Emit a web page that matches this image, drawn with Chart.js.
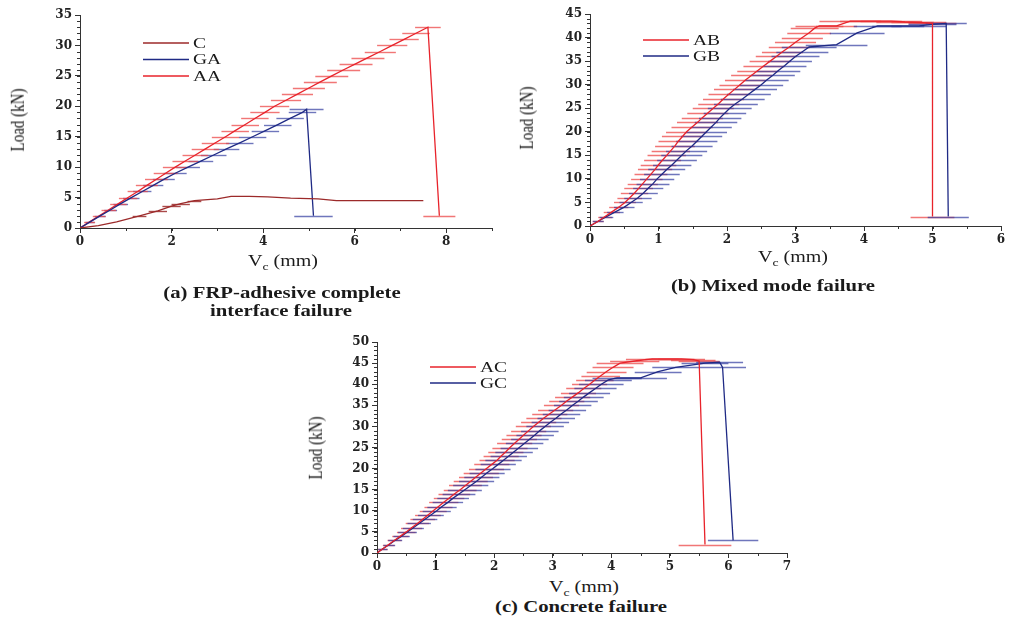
<!DOCTYPE html>
<html>
<head>
<meta charset="utf-8">
<script src="https://cdn.jsdelivr.net/npm/chart.js@4.4.1/dist/chart.umd.min.js"></script>
<style>
  body { margin: 0; background: #fff; }
  #wrap { position: relative; width: 1009px; height: 621px; overflow: hidden; }
  canvas { position: absolute; }
  .txt { position: absolute; white-space: nowrap; color: #1a1a1a; font-family: 'Liberation Serif', serif; }
  .ytitle { font-size: 15px; color: #111; transform: translate(-50%, -50%) rotate(-90deg) scaleY(1.2); }
  .xtitle { font-size: 16px; transform: translate(-50%, -50%) scaleX(1.25); }
  .cap { font-size: 17px; font-weight: bold; transform: translate(-50%, -50%) scaleX(1.22); }
</style>
</head>
<body>
<div id="wrap">
  <canvas id="chartA" width="500" height="252" style="left:0px;top:0px"></canvas>
  <canvas id="chartB" width="509" height="250" style="left:500px;top:0px"></canvas>
  <canvas id="chartC" width="510" height="257" style="left:290px;top:320px"></canvas>

  <div class="txt ytitle" style="left:18px;top:120px">Load (kN)</div>
  <div class="txt ytitle" style="left:527px;top:118px">Load (kN)</div>
  <div class="txt ytitle" style="left:316px;top:448px">Load (kN)</div>

  <div class="txt xtitle" style="left:283px;top:262px">V<sub style="font-size:11px">c</sub> (mm)</div>
  <div class="txt xtitle" style="left:793px;top:258px">V<sub style="font-size:11px">c</sub> (mm)</div>
  <div class="txt xtitle" style="left:584px;top:588px">V<sub style="font-size:11px">c</sub> (mm)</div>

  <div class="txt cap" style="left:282px;top:293px">(a) FRP-adhesive complete</div>
  <div class="txt cap" style="left:281px;top:311px">interface failure</div>
  <div class="txt cap" style="left:773px;top:286px">(b) Mixed mode failure</div>
  <div class="txt cap" style="left:581px;top:607px">(c) Concrete failure</div>
</div>
<script>
// ---- tick labels ----
const xTicksA = [0, 2, 4, 6, 8];
const yTicksA = [0, 5, 10, 15, 20, 25, 30, 35];
const xTicksB = [0, 1, 2, 3, 4, 5, 6];
const yTicksB = [0, 5, 10, 15, 20, 25, 30, 35, 40, 45];
const xTicksC = [0, 1, 2, 3, 4, 5, 6, 7];
const yTicksC = [0, 5, 10, 15, 20, 25, 30, 35, 40, 45, 50];

// ---- (a) FRP-adhesive complete interface failure ----
const cX   = [0, 0.4, 0.8, 1.3, 1.7, 2.0, 2.2, 2.5, 3.0, 3.3, 3.7, 4.1, 4.6, 5.2, 5.6, 6.5, 7.5];
const cY   = [0, 0.4, 1.0, 2.0, 2.8, 3.6, 4.0, 4.5, 4.8, 5.2, 5.2, 5.1, 4.9, 4.8, 4.5, 4.5, 4.5];
const cErr = [0, 0, 0, 0.15, 0.2, 0.2, 0.2, 0.15, 0, 0, 0, 0, 0, 0, 0, 0, 0];

const gaX   = [0, 0.22, 0.44, 0.67, 0.89, 1.12, 1.36, 1.6, 1.83, 2.08, 2.36, 2.64, 2.92, 3.2, 3.49, 3.77, 4.05, 4.32, 4.59, 4.86, 4.95, 5.1];
const gaY   = [0, 1, 2, 3, 4, 5, 6, 7, 8, 9, 10, 11, 12, 13, 14, 15, 16, 17, 18, 19, 19.5, 2];
const gaErr = [0, 0.1, 0.12, 0.14, 0.16, 0.18, 0.2, 0.22, 0.24, 0.25, 0.26, 0.27, 0.28, 0.28, 0.3, 0.3, 0.3, 0.3, 0.3, 0.3, 0.37, 0.42];

const aaX   = [0, 0.21, 0.42, 0.63, 0.84, 1.05, 1.26, 1.46, 1.67, 1.87, 2.08, 2.3, 2.52, 2.74, 2.96, 3.18, 3.39, 3.61, 3.82, 4.04, 4.25, 4.5, 4.75, 5.0, 5.25, 5.5, 5.76, 6.03, 6.29, 6.56, 6.82, 7.08, 7.34, 7.6, 7.85];
const aaY   = [0, 1, 2, 3, 4, 5, 6, 7, 8, 9, 10, 11, 12, 13, 14, 15, 16, 17, 18, 19, 20, 21, 22, 23, 24, 25, 26, 27, 28, 29, 30, 31, 32, 33, 2];
const aaErr = [0, 0.12, 0.14, 0.16, 0.18, 0.2, 0.22, 0.24, 0.25, 0.26, 0.27, 0.28, 0.28, 0.3, 0.3, 0.3, 0.3, 0.3, 0.3, 0.32, 0.32, 0.33, 0.34, 0.35, 0.36, 0.36, 0.36, 0.36, 0.36, 0.34, 0.33, 0.32, 0.3, 0.28, 0.35];

// ---- (b) Mixed mode failure ----
const abX   = [0, 0.12, 0.22, 0.32, 0.42, 0.51, 0.58, 0.65, 0.71, 0.77, 0.83, 0.89, 0.95, 1.0, 1.06, 1.12, 1.18, 1.24, 1.29, 1.35, 1.41, 1.49, 1.57, 1.64, 1.72, 1.8, 1.88, 1.95, 2.03, 2.11, 2.19, 2.27, 2.36, 2.45, 2.54, 2.63, 2.72, 2.81, 2.91, 3.0, 3.1, 3.2, 3.28, 3.35, 3.6, 3.8, 4.1, 4.4, 4.6, 4.8, 5.0, 5.0];
const abY   = [0, 1, 2, 3, 4, 5, 6, 7, 8, 9, 10, 11, 12, 13, 14, 15, 16, 17, 18, 19, 20, 21, 22, 23, 24, 25, 26, 27, 28, 29, 30, 31, 32, 33, 34, 35, 36, 37, 38, 39, 40, 41, 42, 42.5, 42.5, 43.5, 43.5, 43.5, 43.3, 43.2, 43, 2];
const abErr = [0, 0.08, 0.1, 0.12, 0.14, 0.16, 0.18, 0.2, 0.21, 0.22, 0.23, 0.24, 0.25, 0.26, 0.27, 0.28, 0.28, 0.29, 0.29, 0.3, 0.3, 0.3, 0.3, 0.3, 0.3, 0.3, 0.3, 0.3, 0.3, 0.3, 0.3, 0.3, 0.3, 0.3, 0.3, 0.3, 0.3, 0.3, 0.3, 0.3, 0.3, 0.32, 0.35, 0.35, 0.3, 0.45, 0.45, 0.45, 0.42, 0.4, 0.35, 0.32];

const gbX   = [0, 0.12, 0.24, 0.37, 0.5, 0.6, 0.7, 0.78, 0.85, 0.92, 0.98, 1.05, 1.12, 1.2, 1.27, 1.34, 1.41, 1.49, 1.56, 1.63, 1.7, 1.77, 1.84, 1.9, 1.97, 2.04, 2.13, 2.23, 2.32, 2.41, 2.5, 2.58, 2.67, 2.75, 2.84, 2.92, 3.0, 3.1, 3.2, 3.6, 3.9, 4.2, 4.5, 4.8, 5.0, 5.2, 5.23];
const gbY   = [0, 1, 2, 3, 4, 5, 6, 7, 8, 9, 10, 11, 12, 13, 14, 15, 16, 17, 18, 19, 20, 21, 22, 23, 24, 25, 26, 27, 28, 29, 30, 31, 32, 33, 34, 35, 36, 37, 38, 38.5, 41, 42.5, 42.5, 42.5, 42.8, 43, 2];
const gbErr = [0, 0.08, 0.1, 0.12, 0.15, 0.17, 0.2, 0.21, 0.22, 0.24, 0.25, 0.26, 0.27, 0.28, 0.29, 0.3, 0.3, 0.3, 0.3, 0.3, 0.3, 0.3, 0.31, 0.31, 0.31, 0.32, 0.32, 0.32, 0.32, 0.32, 0.32, 0.32, 0.32, 0.32, 0.32, 0.32, 0.35, 0.38, 0.4, 0.45, 0.4, 0.35, 0.38, 0.4, 0.35, 0.3, 0.3];

// ---- (c) Concrete failure ----
const acX   = [0, 0.1, 0.2, 0.3, 0.4, 0.5, 0.59, 0.69, 0.78, 0.87, 0.96, 1.05, 1.14, 1.23, 1.32, 1.42, 1.51, 1.6, 1.69, 1.78, 1.87, 1.96, 2.05, 2.12, 2.2, 2.27, 2.35, 2.43, 2.51, 2.59, 2.67, 2.76, 2.85, 2.95, 3.05, 3.15, 3.24, 3.34, 3.44, 3.53, 3.63, 3.72, 3.82, 3.92, 4.03, 4.15, 4.4, 4.7, 5.0, 5.2, 5.4, 5.5, 5.6];
const acY   = [0, 1, 2, 3, 4, 5, 6, 7, 8, 9, 10, 11, 12, 13, 14, 15, 16, 17, 18, 19, 20, 21, 22, 23, 24, 25, 26, 27, 28, 29, 30, 31, 32, 33, 34, 35, 36, 37, 38, 39, 40, 41, 42, 43, 44, 45, 45.5, 46, 46, 46, 45.8, 45.5, 2];
const acErr = [0, 0.08, 0.1, 0.12, 0.14, 0.16, 0.18, 0.2, 0.21, 0.22, 0.23, 0.24, 0.25, 0.26, 0.27, 0.28, 0.28, 0.29, 0.29, 0.3, 0.3, 0.3, 0.3, 0.3, 0.3, 0.3, 0.3, 0.3, 0.3, 0.3, 0.3, 0.3, 0.3, 0.3, 0.3, 0.3, 0.3, 0.3, 0.3, 0.3, 0.3, 0.32, 0.33, 0.34, 0.35, 0.4, 0.42, 0.45, 0.42, 0.4, 0.38, 0.35, 0.45];

const gcX   = [0, 0.1, 0.21, 0.31, 0.42, 0.52, 0.62, 0.72, 0.82, 0.92, 1.02, 1.11, 1.21, 1.3, 1.4, 1.5, 1.6, 1.7, 1.79, 1.88, 1.98, 2.07, 2.16, 2.25, 2.34, 2.43, 2.52, 2.61, 2.7, 2.78, 2.87, 2.96, 3.06, 3.15, 3.25, 3.34, 3.44, 3.53, 3.63, 3.73, 3.83, 3.95, 4.1, 4.5, 4.8, 5.1, 5.6, 5.85, 5.9, 6.08];
const gcY   = [0, 1, 2, 3, 4, 5, 6, 7, 8, 9, 10, 11, 12, 13, 14, 15, 16, 17, 18, 19, 20, 21, 22, 23, 24, 25, 26, 27, 28, 29, 30, 31, 32, 33, 34, 35, 36, 37, 38, 39, 40, 41, 41.5, 41.5, 43, 44, 45, 45.2, 44, 3];
const gcErr = [0, 0.08, 0.1, 0.12, 0.14, 0.16, 0.18, 0.2, 0.21, 0.22, 0.24, 0.25, 0.26, 0.27, 0.28, 0.29, 0.3, 0.3, 0.3, 0.3, 0.3, 0.3, 0.31, 0.31, 0.32, 0.32, 0.32, 0.32, 0.32, 0.32, 0.32, 0.32, 0.32, 0.32, 0.32, 0.32, 0.33, 0.34, 0.35, 0.36, 0.38, 0.4, 0.42, 0.45, 0.4, 0.4, 0.4, 0.4, 0.4, 0.43];

const RED = '#e8232b', NAVY = '#1f2a85', DARKRED = '#9c2a2a';
const RED_BAR = 'rgba(236, 72, 72, 0.75)', NAVY_BAR = 'rgba(50, 60, 160, 0.7)', DARKRED_BAR = 'rgba(156, 42, 42, 0.85)';

function toPoints(xs, ys) {
    return xs.map((x, i) => ({ x: x, y: ys[i] }));
}

// horizontal error bars, drawn under the lines
const errorBarPlugin = {
    id: 'errorBars',
    beforeDatasetsDraw(chart) {
        const ctx = chart.ctx;
        const xs = chart.scales.x, ys = chart.scales.y;
        ctx.save();
        chart.data.datasets.forEach(ds => {
            if (!ds.errorBars) return;
            ctx.strokeStyle = ds.errorColor;
            ctx.lineWidth = 1.4;
            ds.data.forEach((p, i) => {
                const e = ds.errorBars[i];
                if (!e) return;
                const py = Math.round(ys.getPixelForValue(p.y)) + 0.5;
                ctx.beginPath();
                ctx.moveTo(xs.getPixelForValue(p.x - e), py);
                ctx.lineTo(xs.getPixelForValue(p.x + e), py);
                ctx.stroke();
            });
        });
        ctx.restore();
    }
};

// minor ticks + legend inside the plot
const decorPlugin = {
    id: 'decor',
    afterDraw(chart, args, opts) {
        const ctx = chart.ctx;
        const xs = chart.scales.x, ys = chart.scales.y;
        const area = chart.chartArea;
        ctx.save();
        ctx.strokeStyle = '#333';
        ctx.lineWidth = 1;
        for (let v = xs.min; v <= xs.max + 1e-9; v += opts.xMinor) {
            const px = Math.round(xs.getPixelForValue(v)) + 0.5;
            ctx.beginPath();
            ctx.moveTo(px, area.bottom);
            ctx.lineTo(px, area.bottom + 3);
            ctx.stroke();
        }
        for (let v = ys.min; v <= ys.max + 1e-9; v += opts.yMinor) {
            const py = Math.round(ys.getPixelForValue(v)) + 0.5;
            ctx.beginPath();
            ctx.moveTo(area.left - 3, py);
            ctx.lineTo(area.left, py);
            ctx.stroke();
        }
        // legend
        chart.data.datasets.forEach((ds, i) => {
            const y = area.top + opts.legendTop + i * opts.legendGap;
            ctx.strokeStyle = ds.borderColor;
            ctx.lineWidth = 1.3;
            ctx.beginPath();
            ctx.moveTo(area.left + opts.legendLeft, y);
            ctx.lineTo(area.left + opts.legendLeft + 46, y);
            ctx.stroke();
            ctx.save();
            ctx.translate(area.left + opts.legendLeft + 50, y);
            ctx.scale(1.3, 1);
            ctx.fillStyle = '#1a1a1a';
            ctx.font = '15px "Liberation Serif"';
            ctx.textBaseline = 'middle';
            ctx.fillText(ds.label, 0, 1);
            ctx.restore();
        });
        ctx.restore();
    }
};

function makeChart(id, datasets, cfg) {
    const tickFont = { family: 'DejaVu Serif', size: 12, weight: 'bold' };
    return new Chart(document.getElementById(id), {
        type: 'scatter',
        data: {
            datasets: datasets.map(s => ({
                label: s.label,
                data: toPoints(s.x, s.y),
                errorBars: s.err,
                errorColor: s.barColor,
                borderColor: s.color,
                backgroundColor: s.color,
                borderWidth: 1.3,
                showLine: true,
                pointRadius: 0,
                tension: 0
            }))
        },
        options: {
            responsive: false,
            animation: false,
            layout: { padding: cfg.padding },
            plugins: {
                legend: { display: false },
                tooltip: { enabled: false },
                decor: cfg.decor
            },
            scales: {
                x: {
                    type: 'linear',
                    min: 0,
                    max: cfg.xMax,
                    afterBuildTicks: s => { s.ticks = cfg.xTicks.map(v => ({ value: v })); },
                    afterFit: s => { s.height = 24; },
                    ticks: { font: tickFont, color: '#222', padding: 2, maxRotation: 0 },
                    grid: { drawOnChartArea: false, drawTicks: true, tickLength: 5, color: '#333' },
                    border: { color: '#333', width: 1 }
                },
                y: {
                    type: 'linear',
                    min: 0,
                    max: cfg.yMax,
                    afterBuildTicks: s => { s.ticks = cfg.yTicks.map(v => ({ value: v })); },
                    afterFit: s => { s.width = cfg.yWidth; },
                    ticks: { font: tickFont, color: '#222', padding: 3 },
                    grid: { drawOnChartArea: false, drawTicks: true, tickLength: 5, color: '#333' },
                    border: { color: '#333', width: 1 }
                }
            }
        },
        plugins: [errorBarPlugin, decorPlugin]
    });
}

makeChart('chartA', [
    { label: 'C', x: cX, y: cY, err: cErr, color: DARKRED, barColor: DARKRED_BAR },
    { label: 'GA', x: gaX, y: gaY, err: gaErr, color: NAVY, barColor: NAVY_BAR },
    { label: 'AA', x: aaX, y: aaY, err: aaErr, color: RED, barColor: RED_BAR }
], {
    xMax: 9, yMax: 35, xTicks: xTicksA, yTicks: yTicksA, yWidth: 80,
    padding: { top: 15, right: 8, bottom: 0, left: 0 },
    decor: { xMinor: 1, yMinor: 1, legendLeft: 63, legendTop: 28, legendGap: 16.5 }
});

makeChart('chartB', [
    { label: 'AB', x: abX, y: abY, err: abErr, color: RED, barColor: RED_BAR },
    { label: 'GB', x: gbX, y: gbY, err: gbErr, color: NAVY, barColor: NAVY_BAR }
], {
    xMax: 6, yMax: 45, xTicks: xTicksB, yTicks: yTicksB, yWidth: 90,
    padding: { top: 14, right: 8, bottom: 0, left: 0 },
    decor: { xMinor: 0.5, yMinor: 1, legendLeft: 53, legendTop: 26, legendGap: 16 }
});

makeChart('chartC', [
    { label: 'AC', x: acX, y: acY, err: acErr, color: RED, barColor: RED_BAR },
    { label: 'GC', x: gcX, y: gcY, err: gcErr, color: NAVY, barColor: NAVY_BAR }
], {
    xMax: 7, yMax: 50, xTicks: xTicksC, yTicks: yTicksC, yWidth: 87,
    padding: { top: 22, right: 13, bottom: 0, left: 0 },
    decor: { xMinor: 0.5, yMinor: 1, legendLeft: 53, legendTop: 25, legendGap: 16 }
});
</script>
</body>
</html>
